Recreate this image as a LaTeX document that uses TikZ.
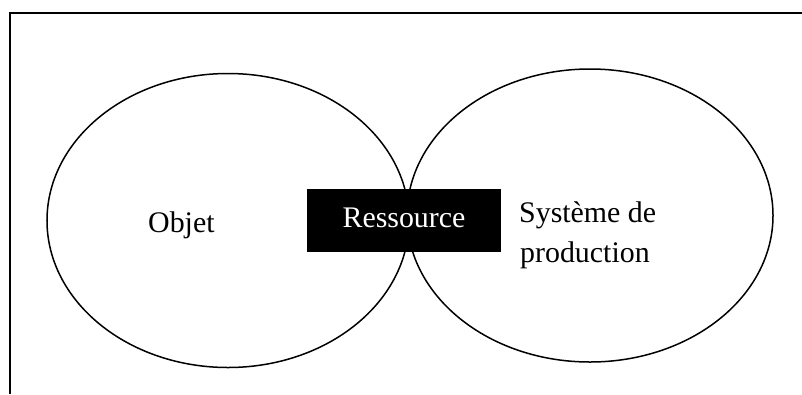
\documentclass[tikz,border=0pt]{standalone}
\usepackage{fontspec}
\setmainfont{Liberation Serif}
\usetikzlibrary{shapes.geometric}
\begin{document}
\begin{tikzpicture}[x=1bp,y=-1bp,
  lbl/.style={font=\fontsize{30}{40}\selectfont, inner sep=0pt},
  ring/.style={draw, ellipse, line width=1.5bp, inner sep=0pt},
  frameline/.style={line width=2bp}]
\useasboundingbox (0,0) rectangle (802,394);
\coordinate (fbl) at (10,394);
\coordinate (ftl) at (10,13);
\coordinate (ftr) at (802,13);
\draw[frameline] (fbl) -- (ftl) -- (ftr);
\node[ring, minimum width=362bp, minimum height=294bp] (objring) at (228,220.5) {};
\node[ring, minimum width=366bp, minimum height=293bp] (sysring) at (590,215.5) {};
\node[fill=black, minimum width=194bp, minimum height=63bp, inner sep=0pt] (resbox) at (404,220.5) {};
\node[lbl, text=white, anchor=base] (restext) at (404,227) {Ressource};
\node[lbl, anchor=base west] (objet) at (148,232) {Objet};
\node[lbl, anchor=base west] (sys1) at (519,222) {Système de};
\node[lbl, anchor=base west] (sys2) at (520,262) {production};
\end{tikzpicture}
\end{document}
